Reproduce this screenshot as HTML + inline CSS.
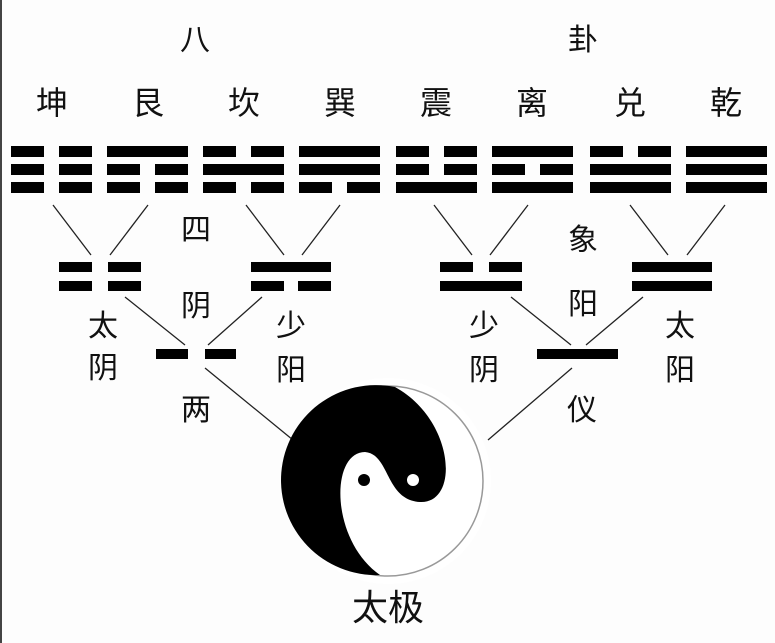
<!DOCTYPE html>
<html><head><meta charset="utf-8"><style>
html,body{margin:0;padding:0;background:#fdfdfd}
svg{display:block}
text{font-family:"Liberation Sans","Noto Sans CJK SC",sans-serif;fill:#111;text-anchor:middle}
</style></head><body>
<svg width="775" height="643" viewBox="0 0 775 643" xmlns="http://www.w3.org/2000/svg">
<rect x="0" y="0" width="775" height="643" fill="#fdfdfd"/>
<rect x="0" y="0" width="2" height="643" fill="#444"/>
<g font-size="30">
<text x="195" y="50">八</text><text x="583" y="50">卦</text>
</g>
<g font-size="32">
<text x="52" y="114">坤</text><text x="148" y="114">艮</text><text x="244" y="114">坎</text><text x="340" y="114">巽</text>
<text x="436" y="114">震</text><text x="532" y="114">离</text><text x="630" y="114">兑</text><text x="726" y="114">乾</text>
</g>
<g fill="#000" id="tri">
<!-- rows y: 146,164,182 -->
<!-- 1 kun: b b b -->
<rect x="11" y="146" width="33" height="11"/><rect x="59" y="146" width="33" height="11"/>
<rect x="11" y="164" width="33" height="11"/><rect x="59" y="164" width="33" height="11"/>
<rect x="11" y="182" width="33" height="11"/><rect x="59" y="182" width="33" height="11"/>
<!-- 2 gen: s b b -->
<rect x="107" y="146" width="81" height="11"/>
<rect x="107" y="164" width="33" height="11"/><rect x="155" y="164" width="33" height="11"/>
<rect x="107" y="182" width="33" height="11"/><rect x="155" y="182" width="33" height="11"/>
<!-- 3 kan: b s b -->
<rect x="203" y="146" width="33" height="11"/><rect x="251" y="146" width="33" height="11"/>
<rect x="203" y="164" width="81" height="11"/>
<rect x="203" y="182" width="33" height="11"/><rect x="251" y="182" width="33" height="11"/>
<!-- 4 xun: s s b -->
<rect x="299" y="146" width="81" height="11"/>
<rect x="299" y="164" width="81" height="11"/>
<rect x="299" y="182" width="33" height="11"/><rect x="347" y="182" width="33" height="11"/>
<!-- 5 zhen: b b s -->
<rect x="396" y="146" width="33" height="11"/><rect x="444" y="146" width="33" height="11"/>
<rect x="396" y="164" width="33" height="11"/><rect x="444" y="164" width="33" height="11"/>
<rect x="396" y="182" width="81" height="11"/>
<!-- 6 li: s b s -->
<rect x="492" y="146" width="81" height="11"/>
<rect x="492" y="164" width="33" height="11"/><rect x="540" y="164" width="33" height="11"/>
<rect x="492" y="182" width="81" height="11"/>
<!-- 7 dui: b s s -->
<rect x="590" y="146" width="33" height="11"/><rect x="638" y="146" width="33" height="11"/>
<rect x="590" y="164" width="81" height="11"/>
<rect x="590" y="182" width="81" height="11"/>
<!-- 8 qian: s s s -->
<rect x="686" y="146" width="81" height="11"/>
<rect x="686" y="164" width="81" height="11"/>
<rect x="686" y="182" width="81" height="11"/>
<!-- bigrams -->
<rect x="59" y="262" width="33" height="10"/><rect x="108" y="262" width="33" height="10"/>
<rect x="59" y="281" width="33" height="10"/><rect x="108" y="281" width="33" height="10"/>
<rect x="251" y="262" width="80" height="10"/>
<rect x="251" y="281" width="33" height="10"/><rect x="298" y="281" width="33" height="10"/>
<rect x="440" y="262" width="33" height="10"/><rect x="489" y="262" width="33" height="10"/>
<rect x="440" y="281" width="82" height="10"/>
<rect x="632" y="262" width="80" height="10"/>
<rect x="632" y="281" width="80" height="10"/>
<!-- monograms -->
<rect x="156" y="349" width="32" height="10"/><rect x="205" y="349" width="31" height="10"/>
<rect x="537" y="349" width="81" height="10"/>
</g>
<g stroke="#222" stroke-width="1.3" fill="none">
<line x1="53" y1="205" x2="91" y2="255"/><line x1="148" y1="205" x2="110" y2="255"/>
<line x1="246" y1="205" x2="284" y2="255"/><line x1="340" y1="205" x2="302" y2="255"/>
<line x1="434" y1="205" x2="472" y2="255"/><line x1="528" y1="205" x2="490" y2="255"/>
<line x1="630" y1="205" x2="668" y2="255"/><line x1="725" y1="205" x2="687" y2="255"/>
<line x1="125" y1="297" x2="185" y2="345"/><line x1="262" y1="297" x2="208" y2="345"/>
<line x1="511" y1="297" x2="571" y2="345"/><line x1="643" y1="297" x2="586" y2="345"/>
<line x1="205" y1="368" x2="293" y2="440"/><line x1="572" y1="368" x2="488" y2="440"/>
</g>
<g font-size="30">
<text x="196" y="240">四</text><text x="583" y="250">象</text>
<text x="196" y="316">阴</text><text x="583" y="314">阳</text>
<text x="103" y="336">太</text><text x="103" y="378">阴</text>
<text x="291" y="336">少</text><text x="291" y="380">阳</text>
<text x="484" y="336">少</text><text x="484" y="380">阴</text>
<text x="680" y="336">太</text><text x="680" y="380">阳</text>
<text x="196" y="420">两</text><text x="582" y="420">仪</text>
</g>
<circle cx="388" cy="481" r="103" fill="#fff"/>
<circle cx="388" cy="481" r="95" fill="#fff" stroke="#999" stroke-width="1.5"/>
<path d="M395,387 A95,95 0 1 0 380,575 C330,540 330,452 365,452 C390,454 385,500 420,502 C460,504 455,420 395,387 Z" fill="#000"/>
<circle cx="364" cy="480" r="6" fill="#000"/>
<circle cx="413" cy="480" r="6" fill="#fff"/>
<text x="388" y="620" font-size="36">太极</text>
</svg>
</body></html>
